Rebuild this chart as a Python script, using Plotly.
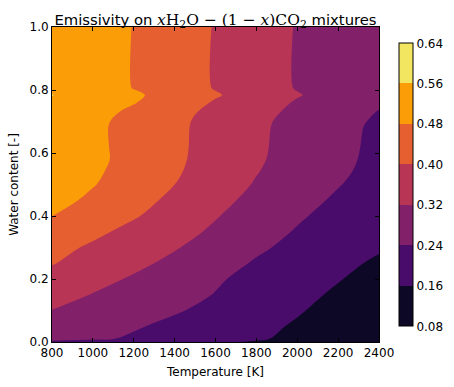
import plotly.graph_objects as go

# Temperature grid [K] (x axis)
temperature = [800, 1000, 1200, 1400, 1600, 1800, 2000, 2200, 2400]
# Water content grid [-] (y axis)
water = [0.0, 0.01, 0.05, 0.10, 0.15, 0.20, 0.25, 0.30, 0.35, 0.40, 0.45,
         0.50, 0.54, 0.58, 0.62, 0.684, 0.705, 0.731, 0.758, 0.784, 0.806, 1.0]

# Emissivity values (rows follow `water`, columns follow `temperature`)
emis_000 = [0.215, 0.203, 0.191, 0.179, 0.167, 0.155, 0.143, 0.131, 0.119]
emis_001 = [0.2725, 0.2514, 0.2303, 0.2092, 0.1881, 0.1671, 0.1454, 0.1234, 0.1014]
emis_005 = [0.3004, 0.2737, 0.2471, 0.2229, 0.1997, 0.1765, 0.153, 0.129, 0.105]
emis_010 = [0.3188, 0.2948, 0.2708, 0.2468, 0.2204, 0.1929, 0.1655, 0.1392, 0.1132]
emis_015 = [0.3437, 0.3172, 0.2907, 0.2642, 0.2375, 0.2079, 0.1782, 0.150, 0.124]
emis_020 = [0.3751, 0.3433, 0.3116, 0.2798, 0.2481, 0.2192, 0.1913, 0.1635, 0.1355]
emis_025 = [0.4037, 0.3704, 0.3371, 0.3027, 0.2671, 0.2333, 0.2053, 0.1773, 0.1494]
emis_030 = [0.4219, 0.3897, 0.3574, 0.3252, 0.2886, 0.2512, 0.2212, 0.1944, 0.1676]
emis_035 = [0.4506, 0.4153, 0.3801, 0.3448, 0.3087, 0.2702, 0.2343, 0.2077, 0.181]
emis_040 = [0.4805, 0.4432, 0.4064, 0.3658, 0.3243, 0.2865, 0.249, 0.2157, 0.1837]
emis_045 = [0.5057, 0.4655, 0.4253, 0.3839, 0.3404, 0.3007, 0.2644, 0.2294, 0.1974]
emis_050 = [0.5257, 0.4838, 0.4419, 0.4001, 0.3565, 0.3143, 0.2788, 0.2432, 0.2109]
emis_054 = [0.5333, 0.4917, 0.450, 0.4083, 0.3657, 0.3228, 0.2868, 0.2512, 0.2181]
emis_058 = [0.5401, 0.4976, 0.4552, 0.4127, 0.3708, 0.329, 0.2919, 0.2561, 0.2224]
emis_062 = [0.5371, 0.4962, 0.4552, 0.4143, 0.3729, 0.3313, 0.294, 0.2584, 0.2245]
emis_068 = [0.5353, 0.4952, 0.4551, 0.415, 0.3743, 0.3332, 0.2961, 0.2611, 0.2272]
emis_070 = [0.5387, 0.4981, 0.4575, 0.4169, 0.3762, 0.3356, 0.2988, 0.2643, 0.2311]
emis_073 = [0.550, 0.5077, 0.4654, 0.4232, 0.3821, 0.3423, 0.3051, 0.2713, 0.2375]
emis_076 = [0.553, 0.518, 0.4826, 0.4373, 0.3923, 0.3519, 0.313, 0.2798, 0.2466]
emis_078 = [0.5612, 0.527, 0.4913, 0.450, 0.4066, 0.3654, 0.3247, 0.289, 0.254]
emis_081 = [0.552, 0.515, 0.478, 0.437, 0.396, 0.3555, 0.316, 0.2814, 0.2469]
emis_100 = [0.552, 0.515, 0.478, 0.437, 0.396, 0.3555, 0.316, 0.2814, 0.2469]

emissivity = [emis_000, emis_001, emis_005, emis_010, emis_015, emis_020, emis_025,
              emis_030, emis_035, emis_040, emis_045, emis_050, emis_054, emis_058,
              emis_062, emis_068, emis_070, emis_073, emis_076, emis_078, emis_081,
              emis_100]

levels = [0.08, 0.16, 0.24, 0.32, 0.40, 0.48, 0.56, 0.64]
level_labels = ["0.08", "0.16", "0.24", "0.32", "0.40", "0.48", "0.56", "0.64"]
x_ticks = [800, 1000, 1200, 1400, 1600, 1800, 2000, 2200, 2400]
y_ticks = [0.0, 0.2, 0.4, 0.6, 0.8, 1.0]

band_colors = ["#0c0826", "#4a0c6b", "#822169", "#b83556", "#e65f30", "#fb9d07", "#f2e660"]
n = len(band_colors)
colorscale = []
for i, c in enumerate(band_colors):
    colorscale.append([i / n, c])
    colorscale.append([(i + 1) / n, c])

fig = go.Figure(go.Contour(
    x=temperature, y=water, z=emissivity,
    zmin=levels[0], zmax=levels[-1],
    autocontour=False,
    contours=dict(start=levels[0], end=levels[-1], size=0.08,
                  coloring="fill", showlines=False),
    line=dict(width=0),
    colorscale=colorscale,
    colorbar=dict(
        x=1.061, xanchor="left", xpad=0,
        y=0.499, yanchor="middle", ypad=0,
        len=283, lenmode="pixels",
        thickness=14, thicknessmode="pixels",
        outlinewidth=1, outlinecolor="black",
        tickvals=levels, ticktext=level_labels, ticks="",
        tickfont=dict(family="DejaVu Sans", size=12, color="black"),
    ),
))

axis_common = dict(showline=True, linecolor="black", linewidth=1, mirror="allticks",
                   ticks="inside", ticklen=4, tickcolor="black", showgrid=False,
                   zeroline=False, automargin=False,
                   tickfont=dict(family="DejaVu Sans", size=12, color="black"))

fig.update_xaxes(range=[800, 2400], tickvals=x_ticks, ticktext=[str(v) for v in x_ticks],
                 title=dict(text="Temperature [K]", font=dict(family="DejaVu Sans", size=12, color="black"), standoff=8),
                 **axis_common)
fig.update_yaxes(range=[0, 1], tickvals=y_ticks, ticktext=["%.1f" % v for v in y_ticks],
                 title=dict(text="Water content [-]", font=dict(family="DejaVu Sans", size=12, color="black"), standoff=8),
                 **axis_common)

title_text = ("Emissivity on <span style='font-family:DejaVu Serif;font-size:15.5px'><i>x</i>H<sub>2</sub>O"
              " − (1 − <i>x</i>)CO<sub>2</sub></span> mixtures")
fig.update_layout(
    width=454, height=387,
    margin=dict(l=52, r=75, t=27, b=45),
    paper_bgcolor="white", plot_bgcolor="white",
    title=dict(text=title_text, x=0.5, xref="paper", xanchor="center",
               y=1, yref="paper", yanchor="bottom", pad=dict(b=2), automargin=False,
               font=dict(family="DejaVu Sans", size=14.8, color="black")),
)

fig.write_html("out.html", config={"displayModeBar": False},
               post_script="document.body.style.margin='0';document.body.style.overflow='hidden';")
